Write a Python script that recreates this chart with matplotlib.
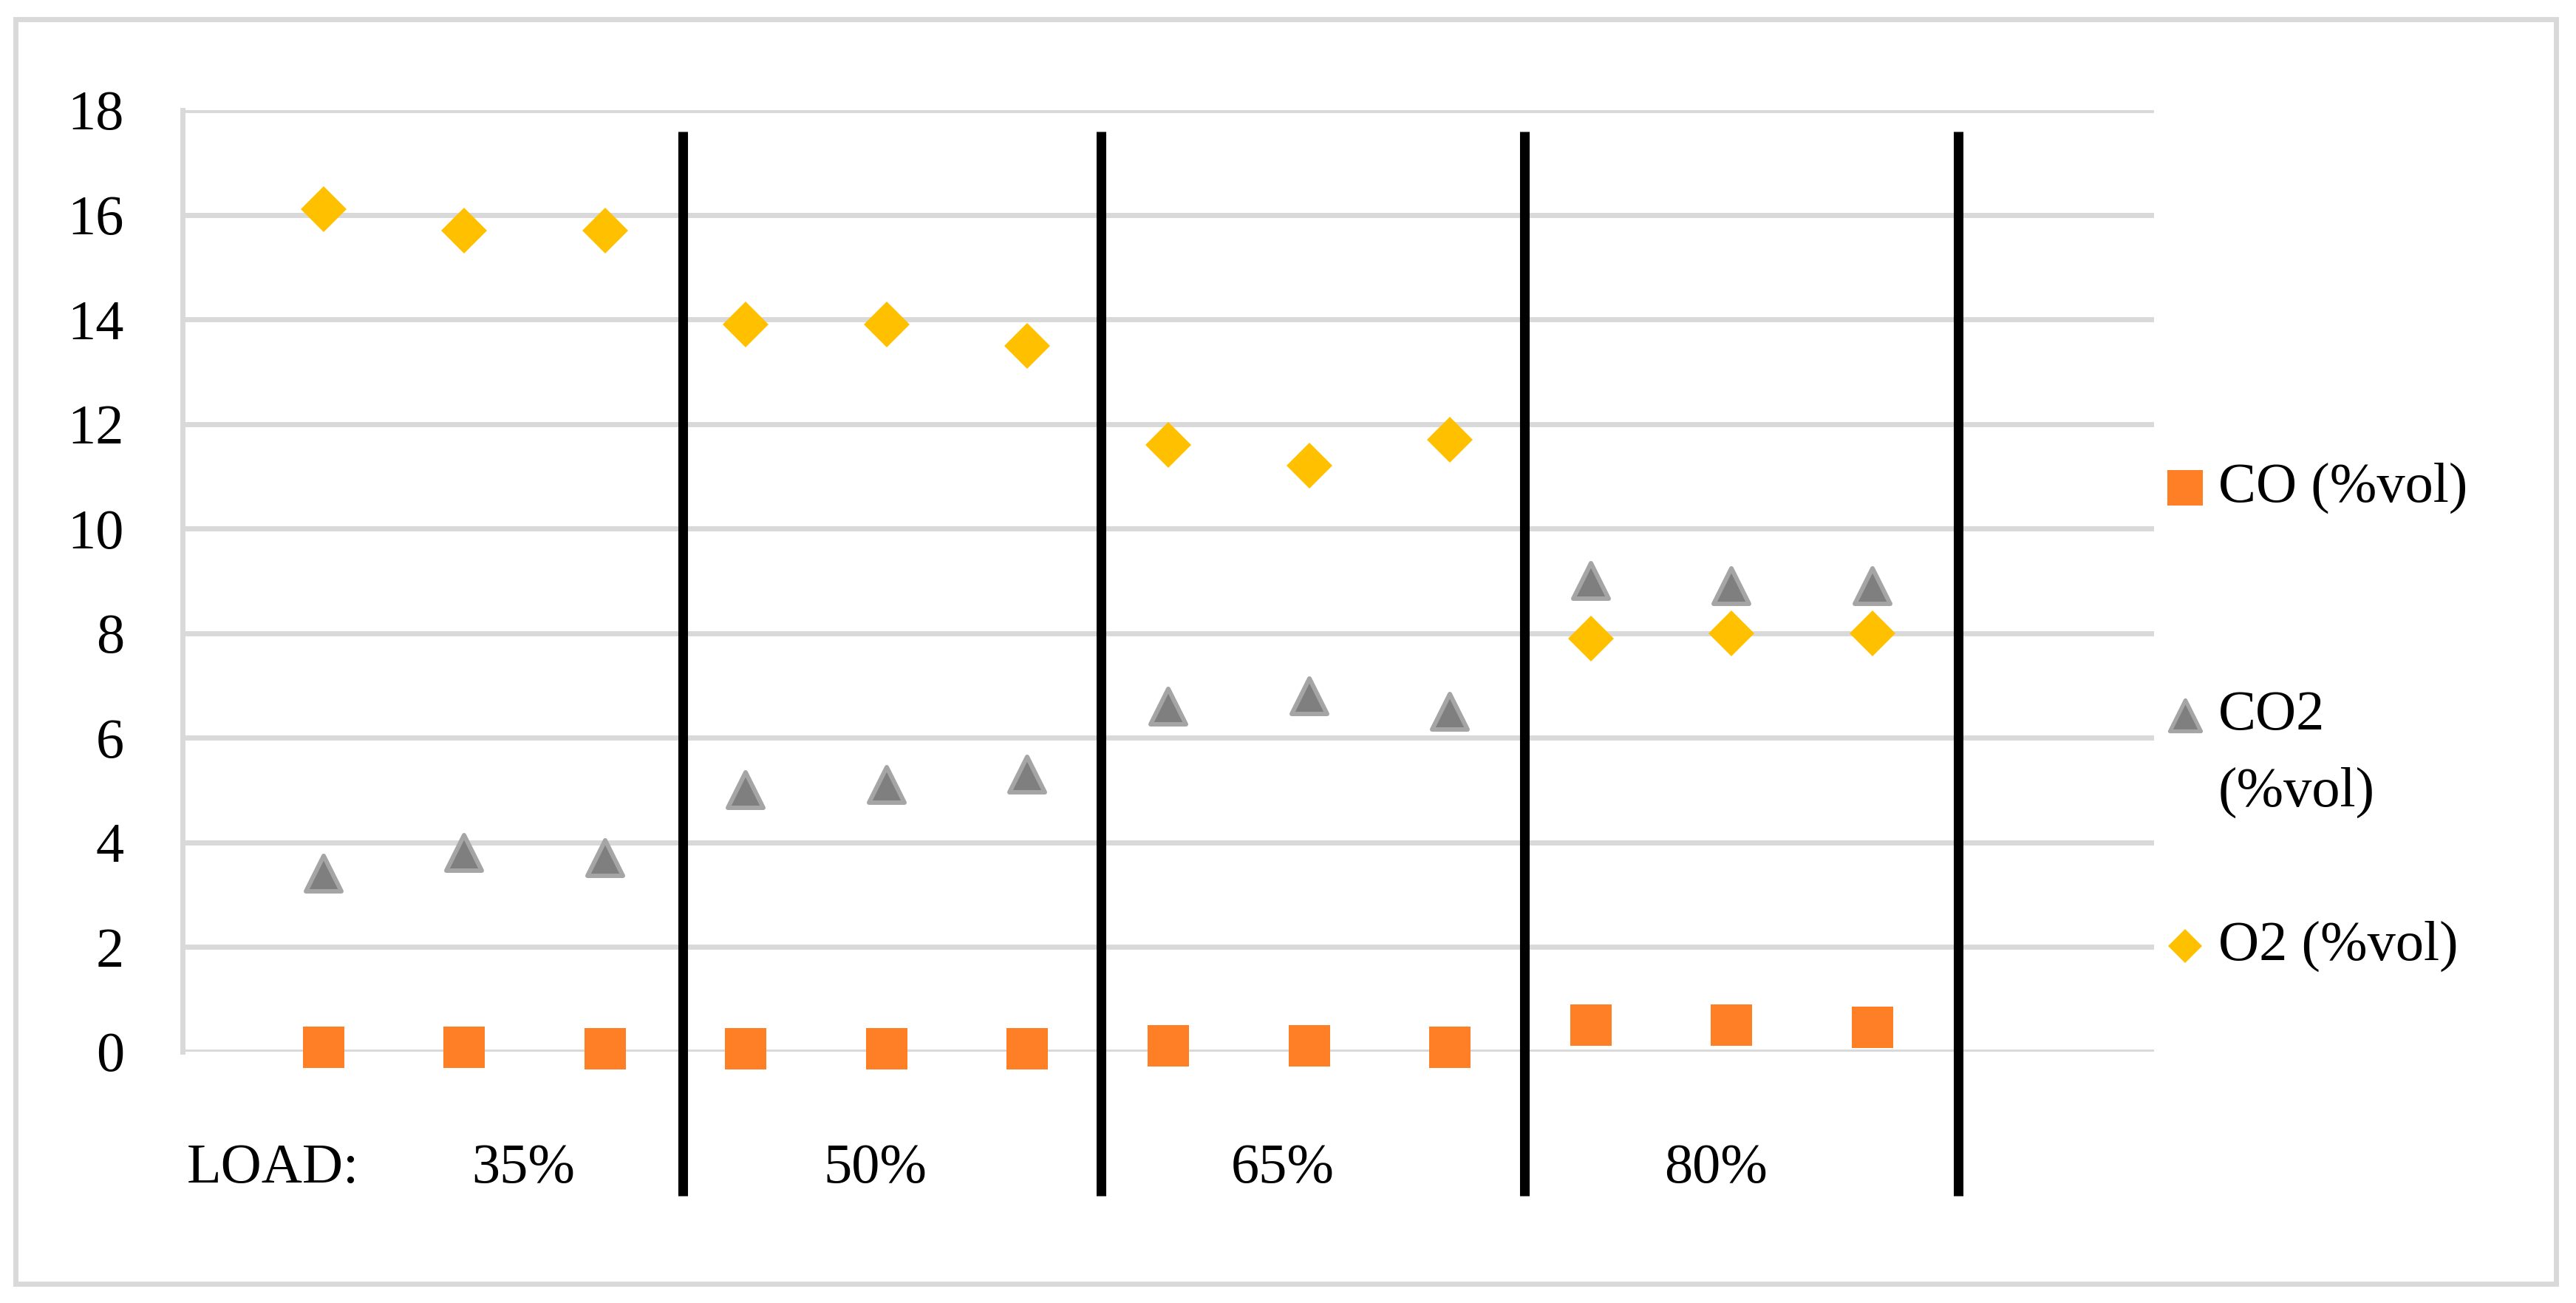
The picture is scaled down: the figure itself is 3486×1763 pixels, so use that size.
import numpy as np
import matplotlib.pyplot as plt
from matplotlib.lines import Line2D
from matplotlib.markers import MarkerStyle
from matplotlib.patches import Rectangle

# Measured values (%vol), three samples per engine load
co = [0.08, 0.08, 0.06, 0.05, 0.06, 0.06, 0.11, 0.12, 0.09, 0.51, 0.51, 0.47]
co2 = [3.4, 3.8, 3.7, 5.0, 5.1, 5.3, 6.6, 6.8, 6.5, 9.0, 8.9, 8.9]
o2 = [16.1, 15.7, 15.7, 13.9, 13.9, 13.5, 11.6, 11.2, 11.7, 7.9, 8.0, 8.0]

series_labels = ["CO (%vol)", "CO2\n(%vol)", "O2 (%vol)"]
load_labels = ["35%", "50%", "65%", "80%"]
y_ticks = list(range(0, 19, 2))

# colours
C_CO = "#FF7F27"
C_CO2_FILL = "#7F7F7F"
C_CO2_EDGE = "#A5A5A5"
C_O2 = "#FFC000"
C_GRID = "#D9D9D9"

FONT = ["Liberation Serif", "DejaVu Serif"]
FS = 55

W, H = 3487, 1763
DPI = 100

plt.rcParams['font.family'] = FONT

fig = plt.figure(figsize=(W / DPI, H / DPI), dpi=DPI)


def fx(px):
    return px / W


def fy(py):
    return 1 - py / H


# outer chart border
fig.patches.append(Rectangle((fx(21), fy(1737)), fx(3459) - fx(21), fy(26) - fy(1737),
                             transform=fig.transFigure, fill=False,
                             edgecolor=C_GRID, linewidth=5))

ax = fig.add_axes([fx(247), fy(1423), fx(2915) - fx(247), fy(149) - fy(1423)])

x = np.arange(1, len(co) + 1)

tri = MarkerStyle('^', joinstyle='round')
ax.plot(x, co, linestyle='none', marker='s', ms=40, mfc=C_CO, mec=C_CO, mew=0,
        zorder=4, clip_on=False)
ax.plot(x, co2, linestyle='none', marker=tri, ms=35, mfc=C_CO2_FILL, mec=C_CO2_EDGE,
        mew=4.3, zorder=4, clip_on=False)
ax.plot(x, o2, linestyle='none', marker='D', ms=31.5, mfc=C_O2, mec=C_O2, mew=0,
        zorder=4, clip_on=False)

ax.set_xlim(0, 14)
ax.set_ylim(0, 18)
ax.set_yticks(y_ticks)
ax.set_xticks([])
ax.yaxis.grid(True, color=C_GRID, linewidth=5)
ax.set_axisbelow(True)
ax.tick_params(axis='y', length=0, pad=57, labelsize=FS, labelcolor='black')
for s in ['top', 'right', 'bottom']:
    ax.spines[s].set_visible(False)
ax.spines['left'].set_color(C_GRID)
ax.spines['left'].set_linewidth(5)

# hand-drawn separators between load groups
divider_x = [3.55, 6.52, 9.53, 12.61]
for dx in divider_x:
    ax.plot([dx, dx], [17.59, -2.75], color='black', linewidth=9.4,
            solid_capstyle='butt', clip_on=False, zorder=5)

# load labels under the chart
ax.text(0.03, -2.5, "LOAD:", fontsize=FS, ha='left', va='baseline')
load_x = [2.42, 4.92, 7.81, 10.89]
for lx, lab in zip(load_x, load_labels):
    ax.text(lx, -2.5, lab, fontsize=FS, ha='center', va='baseline')

# legend drawn by hand (Excel style, CO2 label wraps)
leg_y = [660, 968, 1280]
leg_markers = [
    dict(marker='s', ms=35, mfc=C_CO, mec=C_CO, mew=0),
    dict(marker=tri, ms=30, mfc=C_CO2_FILL, mec=C_CO2_EDGE, mew=3.8),
    dict(marker='D', ms=23, mfc=C_O2, mec=C_O2, mew=0),
]
for ly, lab, mk in zip(leg_y, series_labels, leg_markers):
    fig.add_artist(Line2D([fx(2957)], [fy(ly)], transform=fig.transFigure,
                          linestyle='none', **mk))
    lines = lab.split("\n")
    for i, line in enumerate(lines):
        fig.text(fx(3002), fy(ly + i * 104), line, fontsize=FS,
                 ha='left', va='center')

fig.savefig("out.png", dpi=DPI, facecolor='white')
